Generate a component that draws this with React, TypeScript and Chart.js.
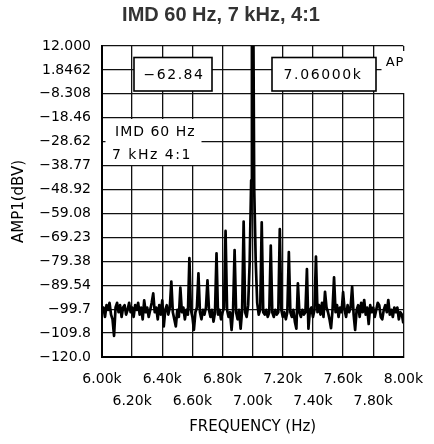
import React, { useEffect, useRef } from "react";
import { Chart, registerables } from "chart.js";

Chart.register(...registerables);

const chartTitle = "IMD 60 Hz, 7 kHz, 4:1";
const xAxisTitle = "FREQUENCY (Hz)";
const yAxisTitle = "AMP1(dBV)";

const xTickValues = [6000, 6200, 6400, 6600, 6800, 7000, 7200, 7400, 7600, 7800, 8000];
const xTickLabels = ["6.00k", "6.20k", "6.40k", "6.60k", "6.80k", "7.00k", "7.20k", "7.40k", "7.60k", "7.80k", "8.00k"];

const yTickValues = [12, 1.8462, -8.3077, -18.4615, -28.6154, -38.7692, -48.9231, -59.0769, -69.2308, -79.3846, -89.5385, -99.6923, -109.8462, -120];
const yTickLabels = ["12.000", "1.8462", "−8.308", "−18.46", "−28.62", "−38.77", "−48.92", "−59.08", "−69.23", "−79.38", "−89.54", "−99.7", "−109.8", "−120.0"];

const freqHz = [
  6000, 6010, 6020, 6030, 6040, 6050, 6060, 6070, 6080, 6090,
  6100, 6110, 6120, 6130, 6140, 6150, 6160, 6170, 6180, 6190,
  6200, 6210, 6220, 6230, 6240, 6250, 6260, 6270, 6280, 6290,
  6300, 6310, 6320, 6330, 6340, 6350, 6360, 6370, 6380, 6390,
  6400, 6410, 6420, 6430, 6440, 6450, 6460, 6470, 6480, 6490,
  6500, 6510, 6520, 6530, 6540, 6550, 6560, 6570, 6580, 6590,
  6600, 6610, 6620, 6630, 6640, 6650, 6660, 6670, 6680, 6690,
  6700, 6710, 6720, 6730, 6740, 6750, 6760, 6770, 6780, 6790,
  6800, 6810, 6820, 6830, 6840, 6850, 6860, 6870, 6880, 6890,
  6900, 6910, 6920, 6930, 6940, 6950, 6960, 6970, 6980, 6990,
  6995, 7000, 7005, 7010, 7020, 7030, 7040, 7050, 7060, 7070, 7080, 7090,
  7100, 7110, 7120, 7130, 7140, 7150, 7160, 7170, 7180, 7190,
  7200, 7210, 7220, 7230, 7240, 7250, 7260, 7270, 7280, 7290,
  7300, 7310, 7320, 7330, 7340, 7350, 7360, 7370, 7380, 7390,
  7400, 7410, 7420, 7430, 7440, 7450, 7460, 7470, 7480, 7490,
  7500, 7510, 7520, 7530, 7540, 7550, 7560, 7570, 7580, 7590,
  7600, 7610, 7620, 7630, 7640, 7650, 7660, 7670, 7680, 7690,
  7700, 7710, 7720, 7730, 7740, 7750, 7760, 7770, 7780, 7790,
  7800, 7810, 7820, 7830, 7840, 7850, 7860, 7870, 7880, 7890,
  7900, 7910, 7920, 7930, 7940, 7950, 7960, 7970, 7980, 7990,
  8000,
];

const ampDbv = [
  -101, -99, -103, -98, -100, -97, -102, -104, -111, -99,
  -97, -101, -98, -103, -99, -98, -102, -100, -97, -101,
  -99, -103, -98, -100, -97, -102, -99, -104, -96, -101,
  -99, -103, -100, -97, -93, -101, -99, -104, -98, -102,
  -96, -107, -100, -98, -102, -99, -88, -101, -104, -107,
  -100, -103, -90.5, -101, -99, -104, -100, -102, -78, -100,
  -103, -108.5, -101, -99, -84.5, -101, -104, -100, -102, -99,
  -87.5, -100, -103, -100, -105, -101, -76, -102, -100, -104,
  -101, -99, -66.5, -100, -103, -101, -108.5, -100, -74.6, -101,
  -104, -100, -108, -100, -62.5, -101, -103, -98, -80, -45,
  15, 15, 15, -48, -79, -97, -102, -100, -62.84, -101, -102, -100,
  -103, -101, -72.7, -101, -103, -100, -102, -101, -65.7, -100,
  -103, -101, -104, -101, -75.5, -101, -103, -100, -105, -108,
  -88.7, -101, -103, -100, -102, -101, -82.7, -108, -100, -99,
  -103, -100, -77.4, -101, -98, -102, -97, -103, -92.3, -99,
  -101, -104, -107.8, -100, -86.2, -101, -98, -103, -99, -101,
  -92.5, -100, -103, -98, -101, -99, -90.1, -102, -108.5, -100,
  -98, -103, -97, -101, -95.8, -102, -99, -106, -98, -101,
  -99, -103, -100, -97, -98, -103, -104, -100, -98, -101,
  -95.8, -102, -100, -103, -99, -101, -99, -104, -101, -102,
  -105.7,
];

const cursorLevel = "−62.84";
const cursorFreq = "7.06000k";
const apLabel = "AP";
const noteLines = ["IMD 60 Hz", "7 kHz 4:1"];

const sansFont = "'DejaVu Sans', sans-serif";

const overlayPlugin = {
  id: "overlay",
  afterDraw(chart: any) {
    const { ctx, chartArea } = chart;
    const L = chartArea.left;
    const T = chartArea.top;
    ctx.save();
    // title
    ctx.fillStyle = "#333";
    ctx.font = "bold 20px 'Liberation Sans', Arial, sans-serif";
    ctx.textAlign = "center";
    ctx.textBaseline = "middle";
    ctx.fillText(chartTitle, 221, 15);

    const box = (x: number, y: number, w: number, h: number, border: boolean) => {
      ctx.fillStyle = "#fff";
      ctx.fillRect(x, y, w, h);
      if (border) {
        ctx.strokeStyle = "#000";
        ctx.lineWidth = 1.6;
        ctx.strokeRect(x, y, w, h);
      }
    };
    const text = (s: string, x: number, y: number, align: CanvasTextAlign, size: number, spacing: number) => {
      ctx.fillStyle = "#000";
      ctx.font = `${size}px ${sansFont}`;
      (ctx as any).letterSpacing = `${spacing}px`;
      ctx.textAlign = align;
      ctx.textBaseline = "middle";
      ctx.fillText(s, x, y);
      (ctx as any).letterSpacing = "0px";
    };

    // cursor level box
    box(L + 32, T + 11.5, 78, 33.5, true);
    text(cursorLevel, L + 72, T + 29, "center", 14, 1.5);
    // cursor frequency box
    box(L + 170, T + 11.5, 104, 33.5, true);
    text(cursorFreq, L + 221, T + 29, "center", 14, 1.6);
    // AP label
    box(L + 279.5, T + 5, 28, 42, false);
    text(apLabel, L + 293, T + 17, "center", 13, 1);
    // note label
    box(L + 3.5, T + 73, 96, 46, false);
    text(noteLines[0], L + 13, T + 86, "left", 14, 1);
    text(noteLines[1], L + 10, T + 109, "left", 14, 1.5);
    ctx.restore();
  },
};

export default function App() {
  const canvasRef = useRef<HTMLCanvasElement | null>(null);

  useEffect(() => {
    const canvas = canvasRef.current;
    if (!canvas) return;
    const chart = new Chart(canvas, {
      type: "line",
      data: {
        datasets: [
          {
            data: freqHz.map((f, i) => ({ x: f, y: ampDbv[i] })),
            borderColor: "#000",
            borderWidth: 2.7,
            pointRadius: 0,
            tension: 0,
            borderJoinStyle: "round",
            fill: false,
          },
        ],
      },
      options: {
        animation: false,
        responsive: false,
        devicePixelRatio: 1,
        layout: { padding: { top: 46, right: 23, left: 0, bottom: 0 } },
        plugins: {
          legend: { display: false },
          title: { display: false },
          tooltip: { enabled: false },
        },
        scales: {
          x: {
            type: "linear",
            min: 6000,
            max: 8000,
            afterBuildTicks: (s: any) => {
              s.ticks = xTickValues.map((v) => ({ value: v }));
            },
            afterFit: (s: any) => {
              s.height = 87;
            },
            ticks: {
              autoSkip: false,
              maxRotation: 0,
              padding: 11,
              color: "#000",
              font: { family: sansFont, size: 14, lineHeight: 22 / 14 },
              callback: (_v: any, i: number) => (i % 2 === 0 ? xTickLabels[i] : ["", xTickLabels[i]]),
            },
            grid: { color: "#111", lineWidth: 1.3, drawTicks: false },
            border: { display: true, color: "#000", width: 2 },
            title: {
              display: true,
              text: xAxisTitle,
              color: "#000",
              font: { family: sansFont, size: 15, lineHeight: 1.2 },
              padding: { top: 0, bottom: 8 },
            },
          },
          y: {
            type: "linear",
            min: -120,
            max: 12,
            afterBuildTicks: (s: any) => {
              s.ticks = yTickValues.map((v) => ({ value: v }));
            },
            afterFit: (s: any) => {
              s.width = 102;
            },
            ticks: {
              autoSkip: false,
              padding: 11,
              color: "#000",
              font: { family: sansFont, size: 14 },
              callback: (_v: any, i: number) => yTickLabels[i],
            },
            grid: { color: "#111", lineWidth: 1.3, drawTicks: false },
            border: { display: true, color: "#000", width: 2 },
            title: {
              display: true,
              text: yAxisTitle,
              color: "#000",
              font: { family: sansFont, size: 15, lineHeight: 1.2 },
              padding: { top: 10, bottom: 0 },
            },
          },
        },
      },
      plugins: [overlayPlugin],
    } as any);
    return () => chart.destroy();
  }, []);

  return (
    <div style={{ position: "fixed", left: 0, top: 0, width: 434, height: 444, background: "#fff" }}>
      <canvas ref={canvasRef} width={434} height={444} style={{ display: "block" }} />
    </div>
  );
}
